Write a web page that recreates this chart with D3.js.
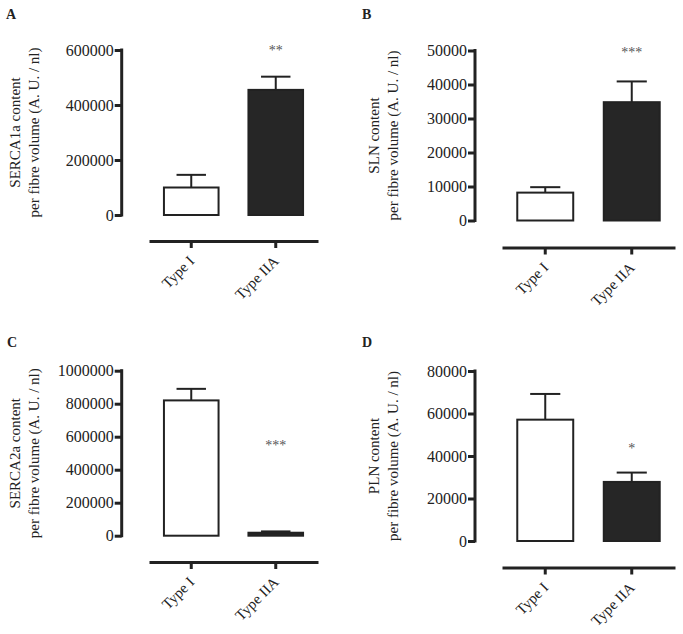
<!DOCTYPE html>
<html>
<head>
<meta charset="utf-8">
<script src="https://cdn.jsdelivr.net/npm/d3@7"></script>
<style>
  html, body { margin: 0; padding: 0; background: #fff; }
  svg { display: block; }
  svg text { font-family: "Liberation Serif", "Times New Roman", serif; }
</style>
</head>
<body>
<svg id="chart" width="683" height="634"></svg>
<script>
// ---------- data ----------
const categories = ["Type I", "Type IIA"];
const panelLetters = ["A", "B", "C", "D"];
const yLabelLine1 = ["SERCA1a content", "SLN content", "SERCA2a content", "PLN content"];
const yLabelLine2 = "per fibre volume (A. U. / nl)";

const serca1aMean = [100000, 455000];
const serca1aErr  = [46000, 48000];
const slnMean     = [8200, 34800];
const slnErr      = [1600, 6100];
const serca2aMean = [820000, 18000];
const serca2aErr  = [70000, 8000];
const plnMean     = [57100, 27800];
const plnErr      = [12100, 4400];

const yMax      = [600000, 50000, 1000000, 80000];
const yTickStep = [200000, 10000, 200000, 20000];
const sigLabels = ["**", "***", "***", "*"];
const sigValue  = [612000, 50500, 570000, 45000]; // y level (data units) of the asterisks

const means = [serca1aMean, slnMean, serca2aMean, plnMean];
const errs  = [serca1aErr, slnErr, serca2aErr, plnErr];

// ---------- layout ----------
const layout = [
  { ax: 121.7, top: 50,    bottom: 215,   xLineY: 241,   xr: [149, 318], lab1: 20,  lab2: 39,  letter: [6, 19] },
  { ax: 475,   top: 50.5,  bottom: 220.5, xLineY: 247.5, xr: [502, 675], lab1: 379, lab2: 398, letter: [362, 19] },
  { ax: 121.7, top: 370.7, bottom: 535.7, xLineY: 562,   xr: [149, 318], lab1: 20,  lab2: 39,  letter: [7, 347] },
  { ax: 475,   top: 371,   bottom: 541,   xLineY: 567.5, xr: [502, 675], lab1: 379, lab2: 398, letter: [362, 347] }
];
const fillColors = ["#ffffff", "#262626"];
const ink = "#222";
const fontSize = 15;
const tickFont = 16;

const svg = d3.select("#chart");

layout.forEach((L, i) => {
  const g = svg.append("g");

  const y = d3.scaleLinear().domain([0, yMax[i]]).range([L.bottom, L.top]);
  const x = d3.scaleBand().domain(categories).range(L.xr)
    .paddingInner(0.33).paddingOuter(0.165);

  // panel letter
  g.append("text")
    .attr("x", L.letter[0]).attr("y", L.letter[1])
    .attr("font-size", 14).attr("font-weight", "bold").attr("fill", ink)
    .text(panelLetters[i]);

  // y axis
  const ticks = d3.range(0, yMax[i] + 1, yTickStep[i]);
  const yAxis = g.append("g")
    .attr("transform", `translate(${L.ax},0)`)
    .call(d3.axisLeft(y).tickValues(ticks).tickFormat(d3.format("d"))
      .tickSize(7).tickSizeOuter(0).tickPadding(1));
  yAxis.attr("font-family", null).attr("font-size", null);
  yAxis.select(".domain").attr("stroke", ink).attr("stroke-width", 3)
    .attr("d", `M0,${L.bottom + 1.5}V${L.top - 1.5}`);
  yAxis.selectAll(".tick line").attr("stroke", ink).attr("stroke-width", 3);
  yAxis.selectAll(".tick text").attr("fill", ink).style("font-size", tickFont + "px");

  // y label (two lines)
  const midY = (L.top + L.bottom) / 2;
  g.append("text")
    .attr("transform", `translate(${L.lab1},${midY}) rotate(-90)`)
    .attr("text-anchor", "middle").style("font-size", fontSize + "px").attr("fill", ink)
    .text(yLabelLine1[i]);
  g.append("text")
    .attr("transform", `translate(${L.lab2},${midY}) rotate(-90)`)
    .attr("text-anchor", "middle").style("font-size", fontSize + "px").attr("fill", ink)
    .text(yLabelLine2);

  // x axis (detached line below the plot), labels drawn rotated
  const xAxis = g.append("g")
    .attr("transform", `translate(0,${L.xLineY})`)
    .call(d3.axisBottom(x).tickSize(7).tickSizeOuter(0).tickFormat(""));
  xAxis.select(".domain").attr("stroke", ink).attr("stroke-width", 3);
  xAxis.selectAll(".tick line").attr("stroke", ink).attr("stroke-width", 3);

  g.append("g").selectAll("text").data(categories).join("text")
    .attr("transform", d => `translate(${x(d) + x.bandwidth() / 2 + 4},${L.xLineY + 21}) rotate(-45)`)
    .attr("text-anchor", "end")
    .style("font-size", fontSize + "px")
    .attr("fill", ink)
    .text(d => d);

  // bars
  const rows = categories.map((c, k) => ({ c, k, m: means[i][k], e: errs[i][k] }));

  // error bars (upper only)
  const eb = g.append("g");
  rows.forEach(r => {
    const cx = x(r.c) + x.bandwidth() / 2;
    const capW = x.bandwidth() * 0.52;
    eb.append("line")
      .attr("x1", cx).attr("x2", cx)
      .attr("y1", y(r.m)).attr("y2", y(r.m + r.e))
      .attr("stroke", ink).attr("stroke-width", 2);
    eb.append("line")
      .attr("x1", cx - capW / 2).attr("x2", cx + capW / 2)
      .attr("y1", y(r.m + r.e)).attr("y2", y(r.m + r.e))
      .attr("stroke", ink).attr("stroke-width", 2);
  });

  g.selectAll("rect.bar").data(rows).join("rect")
    .attr("class", "bar")
    .attr("x", d => x(d.c) + 1)
    .attr("width", x.bandwidth() - 2)
    .attr("y", d => y(d.m))
    .attr("height", d => y(0) - y(d.m))
    .attr("fill", d => fillColors[d.k])
    .attr("stroke", ink).attr("stroke-width", 2);

  // significance asterisks above Type IIA
  g.append("text")
    .attr("x", x(categories[1]) + x.bandwidth() / 2)
    .attr("y", y(sigValue[i]) + 8)
    .attr("text-anchor", "middle")
    .style("font-size", "14px").attr("fill", "#555")
    .text(sigLabels[i]);
});
</script>
</body>
</html>
